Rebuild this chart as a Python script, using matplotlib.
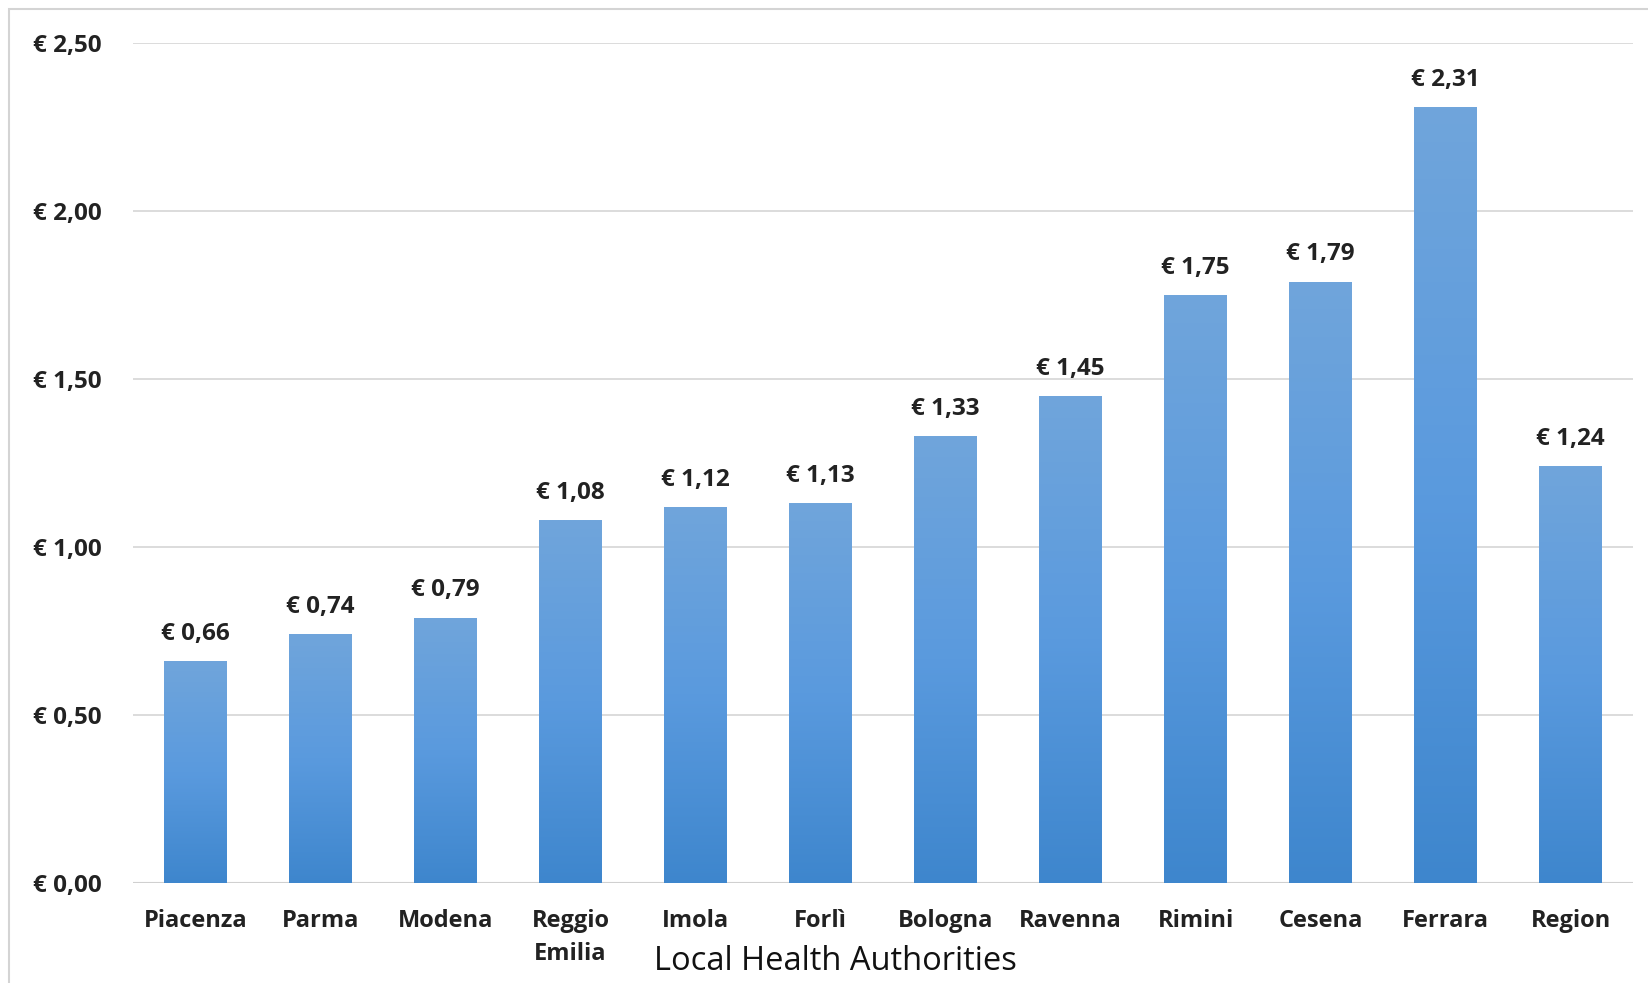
import numpy as np
import matplotlib.pyplot as plt
from matplotlib.colors import LinearSegmentedColormap
from matplotlib.patches import Rectangle

authorities = ['Piacenza', 'Parma', 'Modena', 'Reggio\nEmilia', 'Imola', 'Forlì',
               'Bologna', 'Ravenna', 'Rimini', 'Cesena', 'Ferrara', 'Region']
cost = [0.66, 0.74, 0.79, 1.08, 1.12, 1.13, 1.33, 1.45, 1.75, 1.79, 2.31, 1.24]
yticks = [0.0, 0.5, 1.0, 1.5, 2.0, 2.5]

plt.rcParams['font.family'] = ['Open Sans', 'DejaVu Sans']

fig = plt.figure(figsize=(16.48, 9.83), dpi=100)
ax = fig.add_axes([0.0807, 0.1017, 0.9103, 0.8545])

x = np.arange(len(cost))
bars = ax.bar(x, cost, width=0.5, color='none', edgecolor='none', zorder=3)

# vertical gradient, lighter at the top
cmap = LinearSegmentedColormap.from_list('blu', ['#3e86cd', '#5a9ade', '#70a5db'])
grad = np.linspace(0, 1, 256).reshape(-1, 1)
for b in bars:
    x0, w, h = b.get_x(), b.get_width(), b.get_height()
    im = ax.imshow(grad, cmap=cmap, origin='lower', aspect='auto',
                   extent=[x0, x0 + w, 0, h], zorder=3)
    im.set_clip_path(b)
    ax.text(x0 + w / 2, h + 0.045, '€ ' + f'{h:.2f}'.replace('.', ','),
            ha='center', va='bottom', fontsize=17.5, fontweight='bold', color='#222222')

ax.set_xlim(-0.5, len(cost) - 0.5)
ax.set_ylim(0, 2.5)
ax.set_yticks(yticks)
ax.set_yticklabels(['€ ' + f'{v:.2f}'.replace('.', ',') for v in yticks],
                   fontsize=17.5, fontweight='bold', color='#222222')
for lab in ax.get_yticklabels():
    lab.set_horizontalalignment('left')
ax.tick_params(axis='y', length=0, pad=72)
ax.set_xticks(x)
ax.set_xticklabels(authorities, fontsize=17, fontweight='bold', color='#222222',
                   linespacing=1.5)
ax.tick_params(axis='x', length=0, pad=19)
for lab in ax.get_xticklabels():
    lab.set_verticalalignment('top')

ax.grid(axis='y', color='#d9d9d9', linewidth=1.3, zorder=0)
for s in ax.spines.values():
    s.set_visible(False)
ax.axhline(0, color='#d0d0d0', linewidth=1.5, zorder=2)

fig.text(0.507, 0.022, 'Local Health Authorities', ha='center', va='center',
         fontsize=23.5, color='#111111')

fig.patches.append(Rectangle((9 / 1648, -0.05), 1.1, 1 - 9 / 983 + 0.05,
                             transform=fig.transFigure, fill=False,
                             edgecolor='#d4d4d4', linewidth=1.5))

fig.savefig('out.png', dpi=100)
